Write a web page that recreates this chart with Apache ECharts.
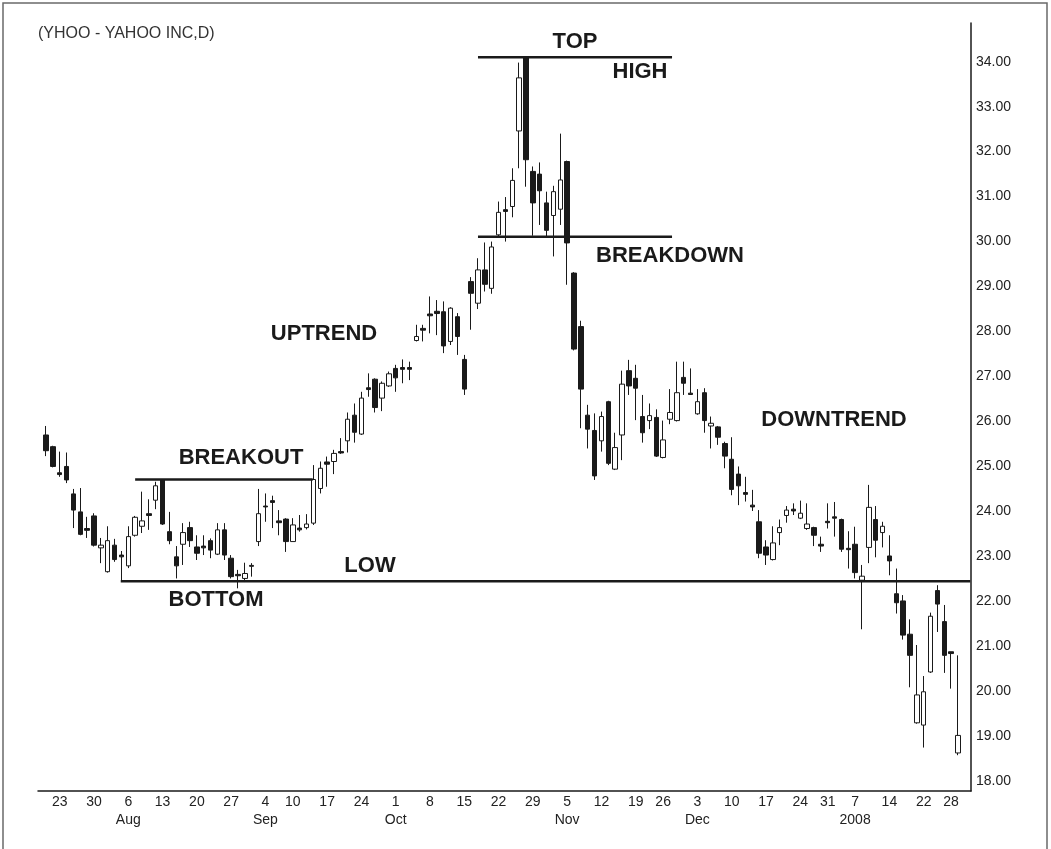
<!DOCTYPE html>
<html>
<head>
<meta charset="utf-8">
<title>YHOO - YAHOO INC, daily</title>
<script src="https://cdn.jsdelivr.net/npm/echarts@6/dist/echarts.min.js"></script>
<style>
  html, body { margin: 0; padding: 0; background: #fff; }
  #chart { width: 1051px; height: 849px; }
</style>
</head>
<body>
<div id="chart"></div>
<script>
// trading days, Jul 19 2007 .. Jan 29 2008
const dates = [
  '7/19', '7/20', '7/23', '7/24', '7/25', '7/26', '7/27', '7/30', '7/31',
  '8/1', '8/2', '8/3', '8/6', '8/7', '8/8', '8/9', '8/10', '8/13', '8/14', '8/15', '8/16', '8/17',
  '8/20', '8/21', '8/22', '8/23', '8/24', '8/27', '8/28', '8/29', '8/30', '8/31',
  '9/4', '9/5', '9/6', '9/7', '9/10', '9/11', '9/12', '9/13', '9/14', '9/17', '9/18', '9/19', '9/20', '9/21',
  '9/24', '9/25', '9/26', '9/27', '9/28',
  '10/1', '10/2', '10/3', '10/4', '10/5', '10/8', '10/9', '10/10', '10/11', '10/12', '10/15', '10/16', '10/17', '10/18', '10/19',
  '10/22', '10/23', '10/24', '10/25', '10/26', '10/29', '10/30', '10/31',
  '11/1', '11/2', '11/5', '11/6', '11/7', '11/8', '11/9', '11/12', '11/13', '11/14', '11/15', '11/16',
  '11/19', '11/20', '11/21', '11/23', '11/26', '11/27', '11/28', '11/29', '11/30',
  '12/3', '12/4', '12/5', '12/6', '12/7', '12/10', '12/11', '12/12', '12/13', '12/14', '12/17', '12/18', '12/19', '12/20', '12/21',
  '12/24', '12/26', '12/27', '12/28', '12/31',
  '1/2', '1/3', '1/4', '1/7', '1/8', '1/9', '1/10', '1/11', '1/14', '1/15', '1/16', '1/17', '1/18',
  '1/22', '1/23', '1/24', '1/25', '1/28', '1/29'
]

// [open, close, low, high]
const candles = [
  [25.70, 25.35, 25.23, 25.90], [25.44, 25.00, 24.98, 25.46], [24.86, 24.82, 24.77, 25.33], [25.00, 24.70, 24.63, 25.31],
  [24.39, 24.03, 23.63, 24.50], [23.99, 23.49, 23.47, 24.52], [23.62, 23.58, 23.41, 23.88], [23.90, 23.25, 23.22, 23.96],
  [23.19, 23.25, 22.85, 23.41], [22.66, 23.35, 22.64, 23.67], [23.25, 22.93, 22.88, 23.39], [23.03, 22.99, 22.45, 23.12],
  [22.79, 23.44, 22.74, 23.67], [23.47, 23.87, 23.44, 23.90], [23.67, 23.79, 23.52, 24.44], [23.95, 23.91, 23.59, 24.27],
  [24.25, 24.57, 24.05, 24.66], [24.70, 23.72, 23.70, 24.72], [23.55, 23.35, 23.27, 23.99], [22.99, 22.79, 22.51, 23.23],
  [23.27, 23.53, 22.81, 23.74], [23.64, 23.35, 23.21, 23.77], [23.21, 23.07, 22.92, 23.47], [23.23, 23.19, 23.03, 23.47],
  [23.35, 23.14, 22.96, 23.40], [23.05, 23.59, 23.03, 23.74], [23.59, 23.03, 22.92, 23.74], [22.96, 22.55, 22.51, 23.03],
  [22.60, 22.57, 22.29, 22.70], [22.51, 22.62, 22.43, 22.86], [22.80, 22.78, 22.55, 22.85], [23.33, 23.95, 23.23, 24.50],
  [24.12, 24.10, 23.77, 24.40], [24.24, 24.20, 23.63, 24.35], [23.79, 23.75, 23.47, 24.03], [23.83, 23.33, 23.10, 23.85],
  [23.33, 23.70, 23.33, 23.85], [23.63, 23.59, 23.55, 23.92], [23.64, 23.72, 23.60, 23.94], [23.74, 24.71, 23.70, 25.03],
  [24.51, 24.96, 24.40, 25.11], [25.10, 25.05, 24.55, 25.22], [25.11, 25.29, 24.83, 25.37], [25.33, 25.30, 25.28, 25.63],
  [25.57, 26.05, 25.31, 26.20], [26.14, 25.76, 25.53, 26.40], [25.72, 26.52, 25.70, 26.66], [26.75, 26.71, 26.55, 27.07],
  [26.94, 26.31, 26.20, 26.96], [26.52, 26.85, 26.23, 26.89], [26.79, 27.06, 26.77, 27.11], [27.18, 26.97, 26.66, 27.26],
  [27.20, 27.16, 26.85, 27.38], [27.20, 27.16, 26.92, 27.33], [27.80, 27.89, 27.78, 28.15], [28.07, 28.03, 27.78, 28.15],
  [28.39, 28.35, 27.96, 28.78], [28.45, 28.40, 27.92, 28.70], [28.44, 27.68, 27.52, 28.67], [27.78, 28.52, 27.70, 28.54],
  [28.33, 27.89, 27.48, 28.41], [27.38, 26.72, 26.59, 27.48], [29.11, 28.85, 28.04, 29.21], [28.63, 29.37, 28.50, 29.63],
  [29.37, 29.05, 28.89, 29.98], [28.96, 29.88, 28.84, 30.00], [30.15, 30.65, 30.11, 30.89], [30.71, 30.67, 30.00, 30.99],
  [30.78, 31.36, 30.54, 31.63], [32.46, 33.64, 31.63, 33.98], [34.10, 31.82, 31.22, 34.12], [31.56, 30.86, 30.13, 31.67],
  [31.50, 31.13, 30.37, 31.76], [30.86, 30.25, 30.08, 31.11], [30.58, 31.11, 29.67, 31.24], [30.72, 31.37, 30.37, 32.40],
  [31.78, 29.97, 29.04, 31.80], [29.30, 27.61, 27.58, 29.32], [28.11, 26.72, 25.85, 28.24], [26.14, 25.83, 25.40, 26.37],
  [25.80, 24.79, 24.70, 26.18], [25.57, 26.11, 25.33, 26.22], [26.44, 25.07, 25.03, 26.46], [24.94, 25.42, 24.92, 25.75],
  [25.70, 26.83, 25.14, 27.13], [27.13, 26.79, 26.59, 27.37], [26.96, 26.74, 26.03, 27.26], [26.11, 25.75, 25.53, 26.59],
  [26.02, 26.13, 25.83, 26.40], [26.09, 25.23, 25.21, 26.27], [25.20, 25.59, 25.18, 26.02], [26.05, 26.20, 25.94, 26.72],
  [26.02, 26.64, 26.00, 27.33], [26.98, 26.85, 26.59, 27.33], [26.63, 26.60, 26.59, 27.18], [26.17, 26.44, 26.15, 26.72],
  [26.64, 26.02, 25.75, 26.74], [25.90, 25.96, 25.40, 26.11], [25.88, 25.65, 25.48, 25.90], [25.51, 25.23, 24.96, 25.55],
  [25.16, 24.49, 24.36, 25.65], [24.83, 24.57, 24.14, 25.00], [24.42, 24.38, 24.22, 24.77], [24.14, 24.10, 24.01, 24.48],
  [23.77, 23.07, 22.96, 24.03], [23.21, 23.03, 22.81, 23.36], [22.93, 23.30, 22.91, 23.67], [23.53, 23.64, 23.25, 23.82],
  [23.91, 24.03, 23.75, 24.12], [24.05, 24.01, 23.92, 24.18], [23.85, 23.96, 23.83, 24.24], [23.62, 23.72, 23.59, 24.18],
  [23.64, 23.47, 23.23, 23.66], [23.27, 23.23, 23.10, 23.44], [23.78, 23.75, 23.62, 24.18], [23.88, 23.85, 23.44, 24.21],
  [23.82, 23.16, 23.10, 23.84], [23.18, 23.15, 22.73, 23.56], [23.27, 22.64, 22.51, 23.66], [22.47, 22.56, 21.38, 22.81],
  [23.20, 24.09, 22.85, 24.59], [23.82, 23.36, 22.98, 24.12], [23.53, 23.67, 23.20, 23.77], [23.01, 22.90, 22.58, 23.47],
  [22.17, 21.97, 21.73, 22.73], [22.01, 21.25, 21.15, 22.14], [21.27, 20.80, 20.09, 21.60], [19.30, 19.92, 19.28, 21.03],
  [19.25, 19.99, 18.75, 20.34], [20.43, 21.67, 20.41, 21.75], [22.24, 21.94, 21.32, 22.36], [21.55, 20.80, 20.41, 21.92],
  [20.88, 20.84, 20.06, 20.88], [18.63, 19.02, 18.58, 20.80]
]

const weekTicks = ['7/23', '7/30', '8/6', '8/13', '8/20', '8/27', '9/4', '9/10', '9/17', '9/24',
  '10/1', '10/8', '10/15', '10/22', '10/29', '11/5', '11/12', '11/19', '11/26',
  '12/3', '12/10', '12/17', '12/24', '12/31', '1/7', '1/14', '1/22', '1/28']
const monthTicks = { '8/6': 'Aug', '9/4': 'Sep', '10/1': 'Oct', '11/5': 'Nov', '12/3': 'Dec', '1/7': '2008' }
const priceTicks = [18, 19, 20, 21, 22, 23, 24, 25, 26, 27, 28, 29, 30, 31, 32, 33, 34]

// drawn levels: [from bar, to bar, price]
const topLine = [63, 91.3, 34.10]
const breakdownLine = [63, 91.3, 30.11]
const breakoutLine = [13, 38.9, 24.71]
const lowLine = [10.9, 134.8, 22.45]

const yMin = 17.784
const yMax = 34.86
const ink = '#1a1a1a'
const font = 'Liberation Sans'

function levelSeries (l) {
  return {
    type: 'line',
    xAxisIndex: 1,
    yAxisIndex: 1,
    data: [[l[0], l[2]], [l[1], l[2]]],
    symbol: 'none',
    silent: true,
    lineStyle: { color: ink, width: 2.5 },
    z: 5
  }
}

function note (text, x, y) {
  return {
    type: 'text',
    x: x,
    y: y,
    style: {
      text: text,
      fontFamily: font,
      fontWeight: 'bold',
      fontSize: 22,
      fill: ink,
      align: 'center',
      verticalAlign: 'middle'
    }
  }
}

const chart = echarts.init(document.getElementById('chart'))
chart.setOption({
  animation: false,
  backgroundColor: '#fff',
  textStyle: { fontFamily: font },
  grid: [
    { left: 42.6, right: 89.6, top: 23, bottom: 58, outerBoundsMode: 'none' },
    { left: 38, right: 80, top: 23, bottom: 58, outerBoundsMode: 'none' }
  ],
  xAxis: [
    {
      type: 'category',
      gridIndex: 0,
      data: dates,
      boundaryGap: true,
      axisLine: { show: false },
      axisTick: { show: false },
      splitLine: { show: false },
      axisLabel: {
        interval: (index, value) => weekTicks.includes(value),
        formatter: value => {
          const day = value.split('/')[1]
          return monthTicks[value] ? day + '\n' + monthTicks[value] : day
        },
        margin: 2,
        fontSize: 14,
        lineHeight: 18,
        color: '#222',
        fontFamily: font
      }
    },
    {
      type: 'value',
      gridIndex: 1,
      min: -1.1667,
      max: 134.9,
      axisLine: { show: true, onZero: false, lineStyle: { color: ink, width: 1.5 } },
      axisTick: { show: false },
      axisLabel: { show: false },
      splitLine: { show: false }
    }
  ],
  yAxis: [
    {
      type: 'value',
      gridIndex: 0,
      min: yMin,
      max: yMax,
      show: false,
      splitLine: { show: false }
    },
    {
      type: 'value',
      gridIndex: 1,
      position: 'right',
      min: yMin,
      max: yMax,
      axisLine: { show: true, onZero: false, lineStyle: { color: ink, width: 1.5 } },
      axisTick: { show: false },
      splitLine: { show: false },
      axisLabel: {
        customValues: priceTicks,
        formatter: v => v.toFixed(2),
        margin: 5,
        fontSize: 14,
        color: '#222',
        fontFamily: font
      }
    }
  ],
  series: [
    {
      type: 'candlestick',
      xAxisIndex: 0,
      yAxisIndex: 0,
      barWidth: 5,
      data: candles,
      itemStyle: {
        color: '#fff',
        color0: ink,
        borderColor: ink,
        borderColor0: ink,
        borderColorDoji: ink,
        borderWidth: 1
      },
      z: 3
    },
    levelSeries(topLine),
    levelSeries(breakdownLine),
    levelSeries(breakoutLine),
    levelSeries(lowLine)
  ],
  graphic: [
    {
      type: 'rect',
      shape: { x: 3, y: 3, width: 1044, height: 860 },
      style: { fill: 'none', stroke: '#6a6a6a', lineWidth: 1.5 },
      silent: true
    },
    {
      type: 'text',
      x: 38,
      y: 34,
      style: {
        text: '(YHOO - YAHOO INC,D)',
        fontFamily: font,
        fontSize: 16,
        fill: '#333',
        align: 'left',
        verticalAlign: 'middle'
      }
    },
    note('TOP', 575, 42),
    note('HIGH', 640, 72),
    note('BREAKDOWN', 670, 256),
    note('UPTREND', 324, 334),
    note('DOWNTREND', 834, 420),
    note('BREAKOUT', 241, 458),
    note('LOW', 370, 566),
    note('BOTTOM', 216, 600)
  ]
})
</script>
</body>
</html>
